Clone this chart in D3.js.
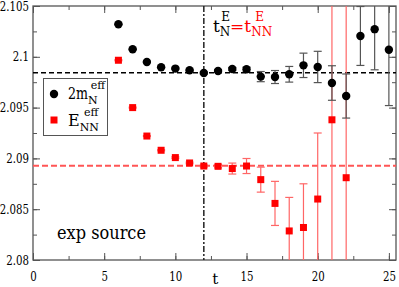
<!DOCTYPE html>
<html lang="en">
<head>
<meta charset="utf-8">
<title>effective masses</title>
<script src="https://cdn.jsdelivr.net/npm/d3@7"></script>
<style>
  body { margin: 0; background: #fff; }
</style>
</head>
<body>
<script>
// t values and effective masses
var tN = [6, 7, 8, 9, 10, 11, 12, 13, 14, 15, 16, 17, 18, 19, 20, 21, 22, 23, 24, 25];
var mN = [2.1032, 2.10074, 2.09949, 2.09897, 2.09884, 2.09867, 2.0984, 2.0986, 2.0988, 2.09877,
          2.09805, 2.09801, 2.09828, 2.09916, 2.099, 2.09742, 2.09614, 2.10205, 2.10272, 2.1007];
var mNerr = [0.00005, 0.00005, 0.00005, 0.00005, 0.00007, 0.00008, 0.0001, 0.00012, 0.00015, 0.0002,
             0.0005, 0.00064, 0.00077, 0.0012, 0.00154, 0.0017, 0.00217, 0.0029, 0.004, 0.0055];

var tNN = [6, 7, 8, 9, 10, 11, 12, 13, 14, 15, 16, 17, 18, 19, 20, 21, 22];
var eNN = [2.09966, 2.095, 2.0922, 2.0908, 2.09008, 2.08955, 2.08925, 2.08922, 2.089, 2.08925,
           2.08791, 2.08557, 2.08286, 2.0832, 2.086, 2.0938, 2.0881];
var eNNerr = [0.00005, 0.00005, 0.00005, 0.00005, 0.00007, 0.00008, 0.0001, 0.00015, 0.00054, 0.00074,
              0.00123, 0.00217, 0.0033, 0.0043, 0.0065, 0.03, 0.03];

var fitN = 2.09843;   // black dashed
var fitNN = 2.08927;  // red dashed
var tE = 12;          // vertical dash-dot

var xTicks = [0, 5, 10, 15, 20, 25];
var yTicks = [2.08, 2.085, 2.09, 2.095, 2.1, 2.105];

var w = 399, h = 287;
var L = 33, R = 396, T = 6, B = 260;
var serif = "'DejaVu Serif', 'Liberation Serif', serif";

var x = d3.scaleLinear().domain([0, 25.5]).range([L, R]);
var y = d3.scaleLinear().domain([2.08, 2.105]).range([B, T]);

var svg = d3.select("body").append("svg").attr("width", w).attr("height", h)
            .style("font-family", serif);

svg.append("clipPath").attr("id", "clip")
   .append("rect").attr("x", L).attr("y", T).attr("width", R - L).attr("height", B - T);

// squeeze DejaVu Serif to roughly Times widths
function narrow(s) {
  var n = 0;
  for (var c of s) n += (c === ".") ? 3.2 : 6.5;
  return n;
}

// axes with inward ticks
var tickCol = "#555";
function styleAxis(g) {
  g.attr("font-family", null);
  g.select(".domain").remove();
  g.selectAll("line").attr("stroke", tickCol);
  g.selectAll("text").attr("font-size", 13).attr("fill", "#000")
   .attr("lengthAdjust", "spacingAndGlyphs")
   .attr("textLength", function() { var t = this.textContent; return t ? narrow(t) : null; });
}
var xMinor = d3.range(0, 25.6, 2.5);
var yMinor = d3.range(2.08, 2.1051, 0.0025);

svg.append("g").attr("transform", "translate(0," + B + ")")
   .call(d3.axisBottom(x).tickValues(xMinor).tickSize(-4).tickFormat(""))
   .call(styleAxis);
svg.append("g").attr("transform", "translate(0," + B + ")")
   .call(d3.axisBottom(x).tickValues(xTicks).tickSize(-7).tickPadding(12).tickFormat(d3.format("d")))
   .call(styleAxis);
svg.append("g").attr("transform", "translate(0," + T + ")")
   .call(d3.axisTop(x).tickValues(xMinor).tickSize(-4).tickFormat(""))
   .call(styleAxis);
svg.append("g").attr("transform", "translate(0," + T + ")")
   .call(d3.axisTop(x).tickValues(xTicks).tickSize(-7).tickFormat(""))
   .call(styleAxis);

svg.append("g").attr("transform", "translate(" + L + ",0)")
   .call(d3.axisLeft(y).tickValues(yMinor).tickSize(-4).tickFormat(""))
   .call(styleAxis);
svg.append("g").attr("transform", "translate(" + L + ",0)")
   .call(d3.axisLeft(y).tickValues(yTicks).tickSize(-7).tickPadding(4).tickFormat(function(d) { return String(+d.toFixed(3)); }))
   .call(styleAxis);
svg.append("g").attr("transform", "translate(" + R + ",0)")
   .call(d3.axisRight(y).tickValues(yMinor).tickSize(-4).tickFormat(""))
   .call(styleAxis);
svg.append("g").attr("transform", "translate(" + R + ",0)")
   .call(d3.axisRight(y).tickValues(yTicks).tickSize(-7).tickFormat(""))
   .call(styleAxis);

// frame
svg.append("rect").attr("x", L).attr("y", T).attr("width", R - L).attr("height", B - T)
   .attr("fill", "none").attr("stroke", "#555").attr("stroke-width", 1.3);

var plot = svg.append("g").attr("clip-path", "url(#clip)");

// reference lines
plot.append("line").attr("x1", L).attr("x2", R).attr("y1", y(fitN)).attr("y2", y(fitN))
    .attr("stroke", "#000").attr("stroke-width", 1.5).attr("stroke-dasharray", "5,3");
plot.append("line").attr("x1", L).attr("x2", R).attr("y1", y(fitNN)).attr("y2", y(fitNN))
    .attr("stroke", "#f55").attr("stroke-width", 2).attr("stroke-dasharray", "6,3");
plot.append("line").attr("x1", x(tE)).attr("x2", x(tE)).attr("y1", T).attr("y2", B)
    .attr("stroke", "#222").attr("stroke-width", 1.5).attr("stroke-dasharray", "6,2,2,2");

// error bars
function errBars(ts, vals, errs, col) {
  var g = plot.append("g").attr("stroke", col).attr("stroke-width", 1.2);
  ts.forEach(function(t, i) {
    var cx = x(t), y0 = y(vals[i] - errs[i]), y1 = y(vals[i] + errs[i]);
    g.append("line").attr("x1", cx).attr("x2", cx).attr("y1", y0).attr("y2", y1);
    g.append("line").attr("x1", cx - 4).attr("x2", cx + 4).attr("y1", y0).attr("y2", y0);
    g.append("line").attr("x1", cx - 4).attr("x2", cx + 4).attr("y1", y1).attr("y2", y1);
  });
}
errBars(tNN, eNN, eNNerr, "#f66");
errBars(tN, mN, mNerr, "#555");

plot.selectAll("rect.nn").data(tNN).enter().append("rect").attr("class", "nn")
    .attr("x", function(d) { return x(d) - 3.5; })
    .attr("y", function(d, i) { return y(eNN[i]) - 3.5; })
    .attr("width", 7).attr("height", 7).attr("fill", "#f00");

plot.selectAll("circle.n").data(tN).enter().append("circle").attr("class", "n")
    .attr("cx", function(d) { return x(d); })
    .attr("cy", function(d, i) { return y(mN[i]); })
    .attr("r", 4.2).attr("fill", "#000");

// legend
svg.append("rect").attr("x", 43.5).attr("y", 78.5).attr("width", 64).attr("height", 57)
   .attr("fill", "#fff").attr("stroke", "#555").attr("stroke-width", 1);
svg.append("circle").attr("cx", 54).attr("cy", 94).attr("r", 4.2).attr("fill", "#000");
svg.append("rect").attr("x", 50.5).attr("y", 116.5).attr("width", 7).attr("height", 7).attr("fill", "#f00");

var l1 = svg.append("text").attr("x", 68).attr("y", 99).attr("font-size", 16);
l1.append("tspan").attr("textLength", 20).attr("lengthAdjust", "spacingAndGlyphs").text("2m");
l1.append("tspan").attr("font-size", 11).attr("dy", 5).text("N");
l1.append("tspan").attr("font-size", 11).attr("dx", -7).attr("dy", -15).text("eff");

var l2 = svg.append("text").attr("x", 68).attr("y", 126).attr("font-size", 16);
l2.append("tspan").text("E");
l2.append("tspan").attr("font-size", 11).attr("dy", 5).text("NN");
l2.append("tspan").attr("font-size", 11).attr("dx", -15).attr("dy", -15).text("eff");

// annotation
var an = svg.append("text").attr("x", 213).attr("y", 32).attr("font-size", 17);
an.append("tspan").text("t");
an.append("tspan").attr("font-size", 12).attr("dy", 4).text("N");
an.append("tspan").attr("font-size", 12).attr("dx", -9).attr("dy", -15).text("E");
an.append("tspan").attr("fill", "#f00").attr("dy", 11).text("=t");
an.append("tspan").attr("fill", "#f00").attr("font-size", 12).attr("dy", 4).text("NN");
an.append("tspan").attr("fill", "#f00").attr("font-size", 12).attr("dx", -17).attr("dy", -15).text("E");

svg.append("text").attr("x", 57).attr("y", 239).attr("font-size", 19)
   .attr("textLength", 89).attr("lengthAdjust", "spacingAndGlyphs").text("exp source");

svg.append("text").attr("x", x(12.8)).attr("y", 284).attr("font-size", 15)
   .attr("text-anchor", "middle").text("t");
</script>
</body>
</html>
